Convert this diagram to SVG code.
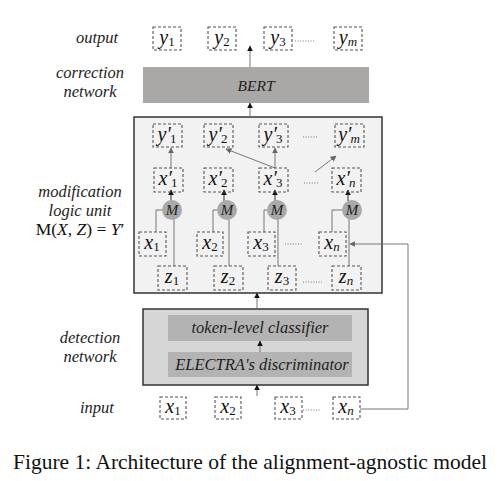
<svg xmlns="http://www.w3.org/2000/svg" width="502" height="481" viewBox="0 0 502 481">
<style>
.lbl{font-family:"Liberation Serif","DejaVu Serif",serif;font-style:italic;font-size:16.5px;fill:#222;text-anchor:middle}
.math{font-family:"Liberation Serif","DejaVu Serif",serif;font-style:italic;font-size:20px;fill:#111;text-anchor:middle}
.sub{font-style:normal;font-size:13px}
.subi{font-style:italic;font-size:13px}
.db{fill:none;stroke:#555;stroke-width:1.1;stroke-dasharray:3,2}
.dots{stroke:#777;stroke-width:1;stroke-dasharray:1,1.6}
.ln{fill:none;stroke:#777;stroke-width:1}
.lnk{fill:none;stroke:#333;stroke-width:1}
.circ{fill:#a9a9a9}
.mt{font-family:"Liberation Serif","DejaVu Serif",serif;font-style:italic;font-size:15px;fill:#222;text-anchor:middle}
</style>
<defs>
<marker id="ag" viewBox="0 0 10 10" refX="9" refY="5" markerWidth="6" markerHeight="6" orient="auto"><path d="M0,0 L10,5 L0,10 z" fill="#666"/></marker>
<marker id="ak" viewBox="0 0 10 10" refX="9" refY="5" markerWidth="6" markerHeight="6" orient="auto"><path d="M0,0 L10,5 L0,10 z" fill="#111"/></marker>
</defs>
<rect width="502" height="481" fill="#fff"/>

<g id="labels">
<text class="lbl" x="97" y="43">output</text>
<text class="lbl" x="90" y="78">correction</text>
<text class="lbl" x="90" y="97">network</text>
<text class="lbl" x="80" y="197">modification</text>
<text class="lbl" x="80" y="216">logic unit</text>
<text x="80" y="235" style="font-family:'Liberation Serif','DejaVu Serif',serif;font-size:17.5px;fill:#111;text-anchor:middle">M(<tspan font-style="italic">X</tspan>, <tspan font-style="italic">Z</tspan>) = <tspan font-style="italic">Y</tspan>′</text>
<text class="lbl" x="90" y="343">detection</text>
<text class="lbl" x="90" y="362">network</text>
<text class="lbl" x="97" y="413">input</text>
</g>

<g id="bert">
<rect x="143" y="67" width="226" height="36" fill="#aaa7a7"/>
<text class="lbl" x="256" y="91" style="font-size:15.5px">BERT</text>
</g>
<g id="mlu">
<rect x="134" y="117" width="248" height="176" fill="#f2f2f2" stroke="#333" stroke-width="1.5"/>
</g>
<g id="detection">
<rect x="143" y="309" width="225" height="76" fill="#d6d6d6" stroke="#333" stroke-width="1.5"/>
<g id="classifier"><rect x="168" y="315" width="184" height="26" fill="#b3b3b3"/>
<text class="lbl" x="260" y="333">token-level classifier</text></g>
<g id="electra"><rect x="168" y="352" width="184" height="25" fill="#b3b3b3"/>
<text class="lbl" x="262" y="370">ELECTRA's discriminator</text></g>
</g>

<g id="connectors">
<line class="ln" x1="250" y1="67" x2="250" y2="46" marker-end="url(#ak)"/>
<line class="ln" x1="250" y1="117" x2="250" y2="103" marker-end="url(#ak)"/>
<line class="ln" x1="257" y1="309" x2="257" y2="293" marker-end="url(#ak)"/>
<line class="ln" x1="260" y1="352" x2="260" y2="341" marker-end="url(#ak)"/>
<line class="ln" x1="257" y1="396" x2="257" y2="385" marker-end="url(#ak)"/>
<line class="ln" x1="171" y1="168" x2="171" y2="148" marker-end="url(#ag)"/>
<line class="ln" x1="275" y1="168" x2="226" y2="149" marker-end="url(#ag)"/>
<line class="ln" x1="275" y1="168" x2="275" y2="148" marker-end="url(#ag)"/>
<line class="ln" x1="315" y1="172" x2="336" y2="156" marker-end="url(#ag)"/>
<line class="lnk" x1="171" y1="201" x2="171" y2="190" marker-end="url(#ak)"/>
<line class="lnk" x1="224" y1="201" x2="224" y2="190" marker-end="url(#ak)"/>
<line class="lnk" x1="275" y1="201" x2="275" y2="190" marker-end="url(#ak)"/>
<line class="lnk" x1="348" y1="201" x2="348" y2="190" marker-end="url(#ak)"/>
<polyline class="ln" points="156,232 156,210 162,210"/>
<polyline class="ln" points="213,232 213,210 217,210"/>
<polyline class="ln" points="264,232 264,210 267,210"/>
<polyline class="ln" points="332,232 332,210 342,210"/>
<line class="ln" x1="174" y1="266" x2="174" y2="219"/>
<line class="ln" x1="229" y1="266" x2="229" y2="219"/>
<line class="ln" x1="278" y1="266" x2="278" y2="219"/>
<line class="ln" x1="349" y1="266" x2="349" y2="219"/>
<polyline class="ln" points="360,409 408,409 408,244 350,244" marker-end="url(#ag)"/>
</g>

<g id="m1"><circle class="circ" cx="172" cy="210" r="10"/><text class="mt" x="172" y="215">M</text></g>
<g id="m2"><circle class="circ" cx="227" cy="210" r="10"/><text class="mt" x="227" y="215">M</text></g>
<g id="m3"><circle class="circ" cx="277" cy="210" r="10"/><text class="mt" x="277" y="215">M</text></g>
<g id="m4"><circle class="circ" cx="352" cy="210" r="10"/><text class="mt" x="352" y="215">M</text></g>

<g id="y1"><rect class="db" x="153" y="27" width="28" height="23"/><text class="math" x="167" y="44">y<tspan class="sub" dy="1.5">1</tspan></text></g>
<g id="y2"><rect class="db" x="208" y="27" width="28" height="23"/><text class="math" x="222" y="44">y<tspan class="sub" dy="1.5">2</tspan></text></g>
<g id="y3"><rect class="db" x="264" y="27" width="28" height="23"/><text class="math" x="278" y="44">y<tspan class="sub" dy="1.5">3</tspan></text></g>
<line class="dots" x1="295" y1="41" x2="314" y2="41"/>
<g id="ym"><rect class="db" x="334" y="27" width="28" height="23"/><text class="math" x="348" y="44">y<tspan class="subi" dy="1.5">m</tspan></text></g>

<g id="yp1"><rect class="db" x="153" y="124" width="29" height="23"/><text class="math" x="167" y="141">y′<tspan class="sub" dx="-1" dy="1.5">1</tspan></text></g>
<g id="yp2"><rect class="db" x="204" y="124" width="29" height="23"/><text class="math" x="218" y="141">y′<tspan class="sub" dx="-1" dy="1.5">2</tspan></text></g>
<g id="yp3"><rect class="db" x="259" y="124" width="29" height="23"/><text class="math" x="273" y="141">y′<tspan class="sub" dx="-1" dy="1.5">3</tspan></text></g>
<line class="dots" x1="303" y1="137" x2="317" y2="137"/>
<g id="ypm"><rect class="db" x="335" y="124" width="29" height="23"/><text class="math" x="349" y="141">y′<tspan class="subi" dx="-1" dy="1.5">m</tspan></text></g>

<g id="xp1"><rect class="db" x="154" y="168" width="29" height="24"/><text class="math" x="168" y="185">x′<tspan class="sub" dx="-1" dy="1.5">1</tspan></text></g>
<g id="xp2"><rect class="db" x="204" y="168" width="29" height="24"/><text class="math" x="218" y="185">x′<tspan class="sub" dx="-1" dy="1.5">2</tspan></text></g>
<g id="xp3"><rect class="db" x="259" y="168" width="29" height="24"/><text class="math" x="273" y="185">x′<tspan class="sub" dx="-1" dy="1.5">3</tspan></text></g>
<line class="dots" x1="304" y1="183" x2="318" y2="183"/>
<g id="xpn"><rect class="db" x="332" y="168" width="29" height="24"/><text class="math" x="346" y="185">x′<tspan class="subi" dx="-1" dy="1.5">n</tspan></text></g>

<g id="x1"><rect class="db" x="139" y="232" width="27" height="24"/><text class="math" x="152" y="249">x<tspan class="sub" dy="1.5">1</tspan></text></g>
<g id="x2"><rect class="db" x="197" y="232" width="26" height="24"/><text class="math" x="210" y="249">x<tspan class="sub" dy="1.5">2</tspan></text></g>
<g id="x3"><rect class="db" x="248" y="232" width="27" height="24"/><text class="math" x="261" y="249">x<tspan class="sub" dy="1.5">3</tspan></text></g>
<line class="dots" x1="285" y1="244" x2="303" y2="244"/>
<g id="xn"><rect class="db" x="319" y="232" width="27" height="24"/><text class="math" x="332" y="249">x<tspan class="subi" dy="1.5">n</tspan></text></g>

<g id="z1"><rect class="db" x="158" y="266" width="29" height="24"/><text class="math" x="172" y="283">z<tspan class="sub" dy="1.5">1</tspan></text></g>
<g id="z2"><rect class="db" x="214" y="266" width="29" height="24"/><text class="math" x="228" y="283">z<tspan class="sub" dy="1.5">2</tspan></text></g>
<g id="z3"><rect class="db" x="268" y="266" width="28" height="24"/><text class="math" x="282" y="283">z<tspan class="sub" dy="1.5">3</tspan></text></g>
<line class="dots" x1="303" y1="282" x2="322" y2="282"/>
<g id="zn"><rect class="db" x="332" y="266" width="29" height="24"/><text class="math" x="346" y="283">z<tspan class="subi" dy="1.5">n</tspan></text></g>

<g id="in1"><rect class="db" x="160" y="397" width="26" height="22"/><text class="math" x="173" y="413">x<tspan class="sub" dy="1.5">1</tspan></text></g>
<g id="in2"><rect class="db" x="215" y="397" width="26" height="22"/><text class="math" x="228" y="413">x<tspan class="sub" dy="1.5">2</tspan></text></g>
<g id="in3"><rect class="db" x="275" y="397" width="27" height="22"/><text class="math" x="288" y="413">x<tspan class="sub" dy="1.5">3</tspan></text></g>
<line class="dots" x1="303" y1="410" x2="320" y2="410"/>
<g id="inn"><rect class="db" x="333" y="397" width="27" height="22"/><text class="math" x="346" y="413">x<tspan class="subi" dy="1.5">n</tspan></text></g>

<text x="250" y="469" style="font-family:'Liberation Serif','DejaVu Serif',serif;font-size:21.5px;fill:#111;text-anchor:middle">Figure 1: Architecture of the alignment-agnostic model</text>
</svg>
